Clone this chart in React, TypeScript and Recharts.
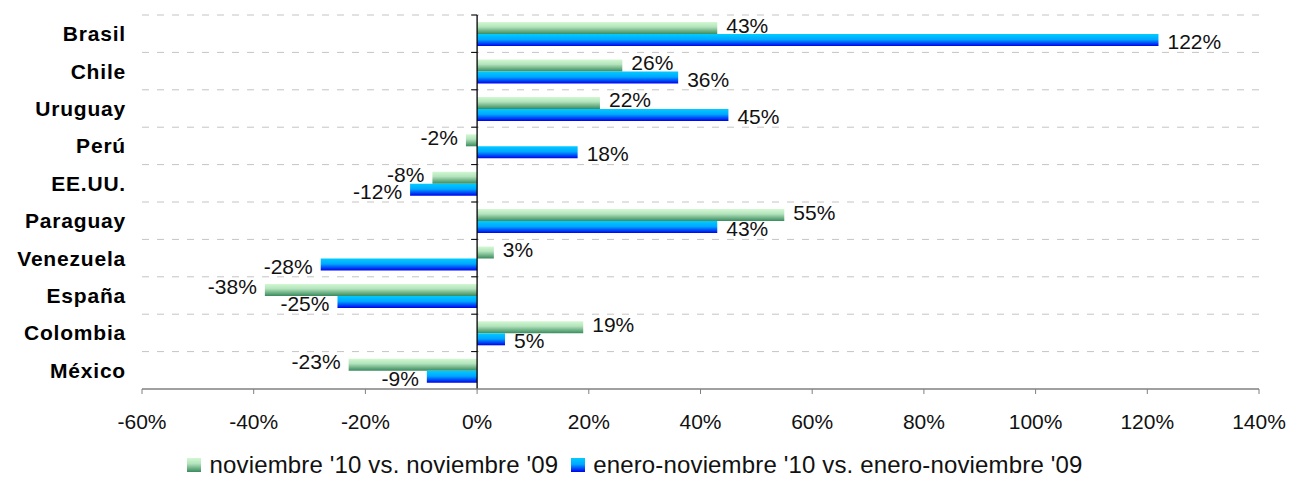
import { BarChart, Bar, XAxis, YAxis, CartesianGrid, ReferenceLine, Legend, LabelList } from 'recharts';

const categories = ['Brasil', 'Chile', 'Uruguay', 'Perú', 'EE.UU.', 'Paraguay', 'Venezuela', 'España', 'Colombia', 'México'];
const novValues = [43, 26, 22, -2, -8, 55, 3, -38, 19, -23];
const eneNovValues = [122, 36, 45, 18, -12, 43, -28, -25, 5, -9];
const xTicks = [-60, -40, -20, 0, 20, 40, 60, 80, 100, 120, 140];
const seriesNames = ["noviembre '10 vs. noviembre '09", "enero-noviembre '10 vs. enero-noviembre '09"];

const data = categories.map((name, i) => ({ name, nov: novValues[i], eneNov: eneNovValues[i] }));

const FONT = '"Liberation Sans", Arial, Helvetica, sans-serif';
const GREEN_BG = 'linear-gradient(to bottom, #d2f8d2 0%, #b4e4bc 40%, #3a8a5e 100%)';
const BLUE_BG = 'linear-gradient(to bottom, #00ccff 0%, #00a8ff 45%, #0000ee 100%)';

const makeLabel = (dy: number) => (props: any) => {
  const x = Number(props.x);
  const y = Number(props.y);
  const width = Number(props.width);
  const height = Number(props.height);
  const value = Number(props.value);
  const left = Math.min(x, x + width);
  const right = Math.max(x, x + width);
  const neg = value < 0;
  return (
    <text
      x={neg ? left - 8 : right + 9}
      y={y + height / 2 + dy}
      dy="0.36em"
      textAnchor={neg ? 'end' : 'start'}
      fontSize={21}
      fontFamily={FONT}
      fill="#111"
    >
      {value}%
    </text>
  );
};

// zero line with small ticks at each category boundary
const ZeroAxis = (props: any) => {
  const x = Number(props.x1);
  const top = Math.min(Number(props.y1), Number(props.y2));
  const bottom = Math.max(Number(props.y1), Number(props.y2));
  const step = (bottom - top) / categories.length;
  return (
    <g>
      <line x1={x} y1={top} x2={x} y2={bottom} stroke="#000" strokeWidth={1.3} />
      {categories.map((_, i) => (
        <line key={i} x1={x - 6} x2={x} y1={top + i * step} y2={top + i * step} stroke="#000" />
      ))}
    </g>
  );
};

const LegendContent = () => (
  <div
    style={{
      display: 'flex',
      justifyContent: 'center',
      alignItems: 'center',
      fontFamily: FONT,
      fontSize: 24,
      letterSpacing: 0.15,
      color: '#111',
      lineHeight: '28px',
      whiteSpace: 'nowrap',
    }}
  >
    <div style={{ width: 14, height: 14, background: GREEN_BG, marginRight: 9 }} />
    <span style={{ marginRight: 13 }}>{seriesNames[0]}</span>
    <div style={{ width: 14, height: 14, background: BLUE_BG, marginRight: 8 }} />
    <span>{seriesNames[1]}</span>
  </div>
);

export default function App() {
  return (
    <div style={{ position: 'absolute', left: 0, top: 0, background: '#fff' }}>
      <BarChart
        width={1289}
        height={501}
        data={data}
        layout="vertical"
        margin={{ top: 15, right: 30, left: 0, bottom: 52 }}
        barCategoryGap="19%"
        barGap={0}
      >
        <defs>
          <linearGradient id="gradNov" x1="0" y1="0" x2="0" y2="1">
            <stop offset="0%" stopColor="#d2f8d2" />
            <stop offset="40%" stopColor="#b4e4bc" />
            <stop offset="100%" stopColor="#3a8a5e" />
          </linearGradient>
          <linearGradient id="gradEne" x1="0" y1="0" x2="0" y2="1">
            <stop offset="0%" stopColor="#00ccff" />
            <stop offset="45%" stopColor="#00a8ff" />
            <stop offset="100%" stopColor="#0000ee" />
          </linearGradient>
        </defs>
        <CartesianGrid
          vertical={false}
          stroke="#c4c4c4"
          strokeDasharray="7 8"
          horizontalCoordinatesGenerator={({ offset }: any) =>
            categories.map((_, i) => offset.top + (i * offset.height) / categories.length)
          }
        />
        <XAxis
          type="number"
          domain={[-60, 140]}
          ticks={xTicks}
          interval={0}
          tickFormatter={(v: number) => `${v}%`}
          axisLine={{ stroke: '#808080', strokeWidth: 1.3 }}
          tickLine={{ stroke: '#808080' }}
          tickSize={5}
          tickMargin={20}
          tick={{ fontSize: 21, fill: '#111', fontFamily: FONT }}
          height={60}
        />
        <YAxis
          type="category"
          dataKey="name"
          width={142}
          interval={0}
          axisLine={false}
          tickLine={false}
          tickSize={0}
          tickMargin={16}
          tick={{ fontSize: 21, fontWeight: 'bold', fill: '#000', fontFamily: FONT, letterSpacing: 0.8 }}
        />
        <Bar dataKey="nov" name={seriesNames[0]} fill="url(#gradNov)" isAnimationActive={false}>
          <LabelList dataKey="nov" content={makeLabel(-3)} />
        </Bar>
        <Bar dataKey="eneNov" name={seriesNames[1]} fill="url(#gradEne)" isAnimationActive={false}>
          <LabelList dataKey="eneNov" content={makeLabel(1.5)} />
        </Bar>
        <ReferenceLine x={0} shape={ZeroAxis} />
        <Legend
          layout="horizontal"
          verticalAlign="middle"
          align="center"
          wrapperStyle={{ top: 451, left: 0, width: 1269 }}
          content={() => <LegendContent />}
        />
      </BarChart>
    </div>
  );
}
